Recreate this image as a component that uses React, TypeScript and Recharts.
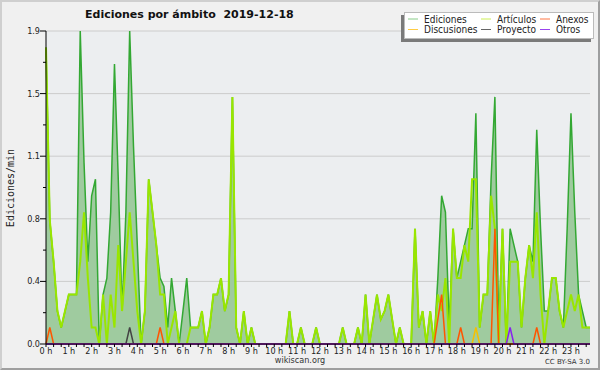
import { ComposedChart, Area, Line, XAxis, YAxis, CartesianGrid } from 'recharts'

// 10-minute slots, 6 per hour, 144 per day
const hourLabels = [
    '0 h', '1 h', '2 h', '3 h', '4 h', '5 h', '6 h', '7 h', '8 h', '9 h', '10 h', '11 h',
    '12 h', '13 h', '14 h', '15 h', '16 h', '17 h', '18 h', '19 h', '20 h', '21 h', '22 h', '23 h',
]

const ediciones = [
    1.8, 0.75, 0.5, 0.2, 0.1, 0.2,
    0.3, 0.3, 0.3, 1.9, 1.1, 0.5,
    0.9, 1.0, 0.0, 0.3, 0.4, 0.8,
    1.7, 1.0, 0.2, 0.8, 1.9, 1.2,
    0.6, 0.0, 0.2, 1.0, 0.8, 0.6,
    0.4, 0.35, 0.1, 0.4, 0.2, 0.0,
    0.2, 0.4, 0.1, 0.1, 0.1, 0.2,
    0.0, 0.1, 0.3, 0.3, 0.4, 0.2,
    0.3, 1.5, 0.1, 0.0, 0.2, 0.0,
    0.1, 0.0, 0.0, 0.0, 0.0, 0.0,
    0.0, 0.0, 0.0, 0.0, 0.2, 0.0,
    0.0, 0.1, 0.0, 0.0, 0.0, 0.1,
    0.0, 0.0, 0.0, 0.0, 0.0, 0.0,
    0.1, 0.0, 0.0, 0.0, 0.1, 0.0,
    0.3, 0.0, 0.15, 0.3, 0.15, 0.2,
    0.3, 0.15, 0.0, 0.1, 0.0, 0.0,
    0.0, 0.7, 0.1, 0.2, 0.0, 0.2,
    0.0, 0.4, 0.9, 0.8, 0.1, 0.7,
    0.4, 0.5, 0.6, 0.7, 0.7, 1.4,
    0.1, 0.3, 0.3, 1.0, 1.5, 0.1,
    0.7, 0.0, 0.7, 0.6, 0.5, 0.1,
    0.4, 0.6, 0.5, 1.3, 0.7, 0.2,
    0.2, 0.4, 0.4, 0.2, 0.1, 0.7,
    1.4, 0.8, 0.3, 0.2, 0.1, 0.1,
]

const articulos = [
    1.8, 0.75, 0.5, 0.2, 0.1, 0.2,
    0.3, 0.3, 0.3, 0.5, 0.8, 0.4,
    0.1, 0.1, 0.0, 0.3, 0.0, 0.3,
    0.1, 0.6, 0.2, 0.5, 0.8, 0.5,
    0.2, 0.0, 0.2, 1.0, 0.8, 0.6,
    0.3, 0.3, 0.0, 0.1, 0.2, 0.0,
    0.0, 0.0, 0.1, 0.1, 0.1, 0.2,
    0.0, 0.1, 0.3, 0.3, 0.4, 0.2,
    0.3, 1.5, 0.1, 0.0, 0.2, 0.0,
    0.1, 0.0, 0.0, 0.0, 0.0, 0.0,
    0.0, 0.0, 0.0, 0.0, 0.2, 0.0,
    0.0, 0.1, 0.0, 0.0, 0.0, 0.1,
    0.0, 0.0, 0.0, 0.0, 0.0, 0.0,
    0.1, 0.0, 0.0, 0.0, 0.1, 0.0,
    0.3, 0.0, 0.15, 0.3, 0.15, 0.2,
    0.3, 0.15, 0.0, 0.1, 0.0, 0.0,
    0.0, 0.7, 0.1, 0.2, 0.0, 0.2,
    0.0, 0.3, 0.2, 0.4, 0.0, 0.7,
    0.4, 0.4, 0.6, 0.5, 1.0, 1.0,
    0.1, 0.3, 0.3, 0.9, 0.7, 0.0,
    0.7, 0.0, 0.5, 0.5, 0.5, 0.1,
    0.4, 0.6, 0.4, 0.8, 0.3, 0.0,
    0.2, 0.4, 0.4, 0.2, 0.1, 0.2,
    0.3, 0.2, 0.3, 0.1, 0.1, 0.1,
]

// sparse series: [slot, value]
const anexos = [[1, 0.1], [30, 0.1], [103, 0.15], [104, 0.3], [109, 0.1], [118, 0.7], [129, 0.1]]
const discusiones = [[113, 0.1]]
const proyecto = [[22, 0.1]]
const otros = [[122, 0.1]]

const yTicks = [0, 0.38, 0.76, 1.14, 1.52, 1.9]
const yMinorTicks = [0.19, 0.57, 0.95, 1.33, 1.71]

const PLOT_LEFT = 46
const PLOT_BOTTOM = 344
const SANS = "'DejaVu Sans', sans-serif"

const legendItems = [
    { label: 'Ediciones', color: '#88cc88', col: 0, row: 0 },
    { label: 'Artículos', color: '#ccee55', col: 1, row: 0 },
    { label: 'Anexos', color: '#ff7744', col: 2, row: 0 },
    { label: 'Discusiones', color: '#ffcc44', col: 0, row: 1 },
    { label: 'Proyecto', color: '#666666', col: 1, row: 1 },
    { label: 'Otros', color: '#9944ee', col: 2, row: 1 },
]
const legendCols = [408, 481, 540]

function sparse(pairs: number[][], slot: number) {
    const hit = pairs.find((p) => p[0] === slot)
    return hit ? hit[1] : 0
}

const data = ediciones.map((v, i) => ({
    t: i,
    ediciones: v,
    articulos: articulos[i],
    anexos: sparse(anexos, i),
    discusiones: sparse(discusiones, i),
    proyecto: sparse(proyecto, i),
    otros: sparse(otros, i),
}))

const xTicks = Array.from({ length: 72 }, (_, i) => i * 2)

function YTick(props: any) {
    const { y, payload } = props
    const major = yTicks.includes(payload.value)
    return (
        <g>
            <line x1={PLOT_LEFT - (major ? 6 : 3)} x2={PLOT_LEFT} y1={y} y2={y} stroke="#000" />
            {major && (
                <text x={PLOT_LEFT - 6} y={y + 3} textAnchor="end" fontSize={9} fill="#222"
                    style={{ fontFamily: SANS, fontStretch: 'condensed' }}>
                    {payload.value.toFixed(1)}
                </text>
            )}
        </g>
    )
}

function XTick(props: any) {
    const { x, payload } = props
    const v = payload.value
    return (
        <g>
            <line x1={x} x2={x} y1={PLOT_BOTTOM} y2={PLOT_BOTTOM + 3} stroke="#000" />
            {v % 6 === 0 && (
                <text x={x} y={PLOT_BOTTOM + 10} textAnchor="middle" fontSize={9} fill="#222"
                    style={{ fontFamily: SANS, fontStretch: 'condensed' }}>
                    {hourLabels[v / 6]}
                </text>
            )}
        </g>
    )
}

export default function App() {
    return (
        <div style={{ position: 'absolute', left: 0, top: 0, width: 600, height: 370, background: '#f0f0f0' }}>
            <ComposedChart width={600} height={370} data={data} margin={{ top: 31, right: 10, bottom: 0, left: 0 }}>
                <CartesianGrid vertical={false} horizontalValues={yTicks} stroke="#cccccc" fill="#eceef0" />
                <XAxis dataKey="t" type="number" domain={[0, 143]} ticks={xTicks} interval={0}
                    height={26} axisLine={{ stroke: '#000' }} tickLine={false} tick={<XTick />} />
                <YAxis type="number" domain={[0, 1.9]} ticks={[...yTicks, ...yMinorTicks]} interval={0}
                    width={46} axisLine={{ stroke: '#000' }} tickLine={false} tick={<YTick />} />
                <Area type="linear" dataKey="ediciones" stroke="none" fill="#9fcb9f" fillOpacity={1}
                    isAnimationActive={false} />
                <Line type="linear" dataKey="ediciones" stroke="#33a833" strokeWidth={1.5} dot={false}
                    activeDot={false} isAnimationActive={false} />
                <Line type="linear" dataKey="articulos" stroke="#99e600" strokeWidth={2} dot={false}
                    activeDot={false} isAnimationActive={false} />
                <Line type="linear" dataKey="discusiones" stroke="#f5c000" strokeWidth={1.5} dot={false}
                    activeDot={false} isAnimationActive={false} />
                <Line type="linear" dataKey="proyecto" stroke="#444444" strokeWidth={1.5} dot={false}
                    activeDot={false} isAnimationActive={false} />
                <Line type="linear" dataKey="anexos" stroke="#ff5500" strokeWidth={1.5} dot={false}
                    activeDot={false} isAnimationActive={false} />
                <Line type="linear" dataKey="otros" stroke="#8822ee" strokeWidth={1.5} dot={false}
                    activeDot={false} isAnimationActive={false} />
            </ComposedChart>

            <svg width={600} height={370} style={{ position: 'absolute', left: 0, top: 0, pointerEvents: 'none' }}>
                <text x={85} y={18} fontSize={11} fontWeight="bold" fill="#111" style={{ fontFamily: SANS }}>
                    Ediciones por ámbito{'\u00a0\u00a0'}2019-12-18
                </text>
                <text transform="translate(13.5,188) rotate(-90)" textAnchor="middle" fontSize={10} fill="#222"
                    style={{ fontFamily: "'DejaVu Sans Mono', monospace" }}>
                    Ediciones/min
                </text>

                <rect x={401} y={15} width={190} height={27} fill="#7a7a7a" />
                <rect x={404.5} y={12.5} width={189} height={26} fill="#ffffff" stroke="#bbbbbb" />
                {legendItems.map((it) => (
                    <g key={it.label}>
                        <line x1={legendCols[it.col]} x2={legendCols[it.col] + 10} y1={19 + it.row * 10.5}
                            y2={19 + it.row * 10.5} stroke={it.color} strokeWidth={1} />
                        <text x={legendCols[it.col] + 16} y={22.5 + it.row * 10.5} fontSize={10} fill="#222"
                            style={{ fontFamily: SANS, fontStretch: 'condensed' }}>
                            {it.label}
                        </text>
                    </g>
                ))}

                <text x={300} y={363} textAnchor="middle" fontSize={9} fill="#333"
                    style={{ fontFamily: SANS, fontStretch: 'condensed' }}>
                    wikiscan.org
                </text>
                <text x={590} y={364} textAnchor="end" fontSize={7} fill="#333"
                    style={{ fontFamily: SANS }}>
                    CC BY-SA 3.0
                </text>
            </svg>
            <div style={{
                position: 'absolute', left: 0, top: 0, width: 600, height: 370, boxSizing: 'border-box',
                borderTop: '2px solid #cfcfcf', borderLeft: '2px solid #cfcfcf',
                borderRight: '2px solid #9f9f9f', borderBottom: '2px solid #9f9f9f', pointerEvents: 'none',
            }} />
        </div>
    )
}
